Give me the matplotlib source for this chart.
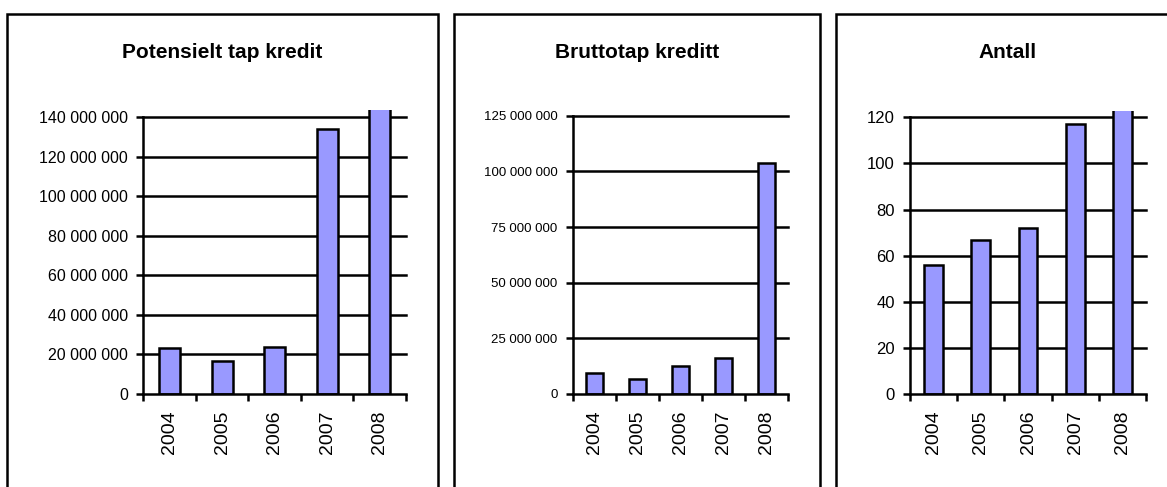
import matplotlib
matplotlib.use("Agg")
import matplotlib.pyplot as plt
from matplotlib.patches import Rectangle

plt.rcParams['font.family'] = ['Liberation Sans', 'DejaVu Sans']

years = ["2004", "2005", "2006", "2007", "2008"]
potensielt_tap = [23.1e6, 16.7e6, 23.7e6, 133.9e6, 155e6]
bruttotap = [9.3e6, 6.7e6, 12.7e6, 16.2e6, 103.6e6]
antall = [56, 67, 72, 117, 130]

W, H = 1167, 487
LW = 1.8
fig = plt.figure(figsize=(W / 100, H / 100), dpi=100)


def px_box(x0, y0, x1, y1):
    # pixel coords (top-left origin) -> figure fractions
    return [x0 / W, 1 - y1 / H, (x1 - x0) / W, (y1 - y0) / H]


def fmt_space(v):
    return "{:,.0f}".format(v).replace(",", " ")


def panel(box, values, ymax, yticks, ylabels, tick_size, title, title_x):
    ax = fig.add_axes(box)
    x = range(len(values))
    ax.bar(x, values, width=0.4, color="#9999FF", edgecolor="black", linewidth=LW, zorder=3)
    ax.set_xlim(-0.5, len(values) - 0.5)
    ax.set_ylim(0, ymax)
    ax.set_yticks(yticks)
    ax.set_yticklabels(ylabels, fontsize=tick_size)
    for t in yticks[1:]:
        ax.axhline(t, color="black", linewidth=LW, zorder=1, clip_on=False)
    ax.set_xticks([i - 0.5 for i in range(len(values) + 1)])
    ax.set_xticklabels([])
    ax.set_xticks(list(x), minor=True)
    ax.set_xticklabels(years, minor=True, rotation=90, fontsize=14)
    ax.tick_params(axis="x", which="minor", length=0, pad=12)
    ax.tick_params(axis="x", which="major", length=5, width=LW, direction="out")
    ax.tick_params(axis="y", length=5, width=LW, direction="out", pad=6)
    for s in ["top", "right"]:
        ax.spines[s].set_visible(False)
    for s in ["left", "bottom"]:
        ax.spines[s].set_linewidth(LW)
        ax.spines[s].set_zorder(4)
    ax.spines["left"].set_bounds(0, yticks[-1])
    fig.text(title_x / W, 1 - 53 / H, title, ha="center", va="center",
             fontsize=15, fontweight="bold")
    return ax


t1 = [i * 20e6 for i in range(8)]
panel(px_box(143.3, 110, 406, 394), potensielt_tap, 143.5e6, t1,
      [fmt_space(v) for v in t1], 11.5, "Potensielt tap kredit", 222)

t2 = [i * 25e6 for i in range(6)]
panel(px_box(572.7, 115.7, 787.7, 394), bruttotap, 125e6, t2,
      [fmt_space(v) for v in t2], 9.5, "Bruttotap kreditt", 636.7)

t3 = [i * 20 for i in range(7)]
panel(px_box(910, 110.7, 1146, 394), antall, 122.9, t3,
      [str(v) for v in t3], 12, "Antall", 1007.7)

# frames around each chart
for x0, x1 in [(7, 438), (454, 820), (836, 1180)]:
    fig.patches.append(Rectangle((x0 / W, -0.1), (x1 - x0) / W, 1.1 - 14 / H,
                                 transform=fig.transFigure, fill=False,
                                 edgecolor="black", linewidth=LW))

fig.savefig("out.png", dpi=100, facecolor="white")
